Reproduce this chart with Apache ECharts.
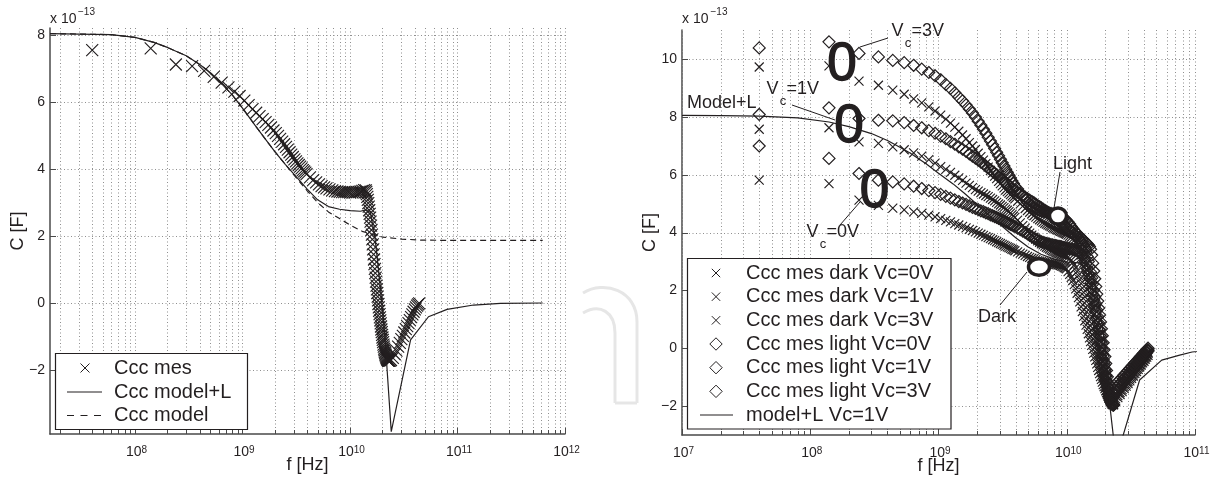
<!DOCTYPE html>
<html>
<head>
<meta charset="utf-8">
<title>Ccc versus frequency</title>
<script src="https://cdn.jsdelivr.net/npm/echarts@6/dist/echarts.min.js"></script>
<style>
  html, body { margin: 0; padding: 0; background: #fff; }
  #chart { width: 1211px; height: 483px; }
</style>
</head>
<body>
<div id="chart"></div>
<script>
// ---------------- left panel: Ccc (x1e-13 F) vs frequency (GHz) ----------------
const freqLeftGHz = [0.04,0.14,0.24,0.34,0.44,0.54,0.64,0.74,0.84,0.94,1.04,1.14,1.24,1.34,1.44,1.54,1.64,1.74,1.84,1.94,
  2.04,2.14,2.24,2.34,2.44,2.54,2.64,2.74,2.84,2.94,3.04,3.14,3.24,3.34,3.44,3.54,3.64,3.74,3.84,3.94,
  4.24,4.54,4.84,5.14,5.44,5.74,6.04,6.44,6.84,7.24,7.64,8.04,8.44,8.84,9.24,9.64,10.04,10.54,11.04,11.54,12.04,12.54,13.04,13.54,
  14.04,14.19,14.34,14.49,14.64,14.79,14.94,15.09,15.24,15.39,15.54,15.69,15.84,15.99,16.14,16.29,16.44,16.59,16.74,16.89,
  17.04,17.19,17.34,17.49,17.64,17.79,17.94,18.09,18.24,18.39,18.54,18.69,18.84,18.99,19.14,19.29,19.44,19.59,19.74,19.89,
  20.04,20.19,20.34,20.49,20.64,20.79,20.94,21.09,21.24,21.39,21.54,21.69,21.84,21.99,22.14,22.29,22.44,22.59,22.74,22.89,23.04,
  23.54,
  24.04,25.04,26.04,27.04,28.04,29.04,30.04,31.04,32.04,33.04,34.04,35.04,36.04,37.04,38.04,39.04,40.04,41.04,42.04,43.04,44.04];
const cccMes = [7.55,7.60,7.12,7.07,6.93,6.75,6.58,6.44,6.31,6.18,6.04,5.91,5.79,5.68,5.58,5.49,5.40,5.32,5.24,5.15,
  5.07,4.99,4.90,4.82,4.74,4.66,4.58,4.50,4.43,4.36,4.29,4.23,4.17,4.12,4.07,4.02,3.97,3.93,3.89,3.85,
  3.75,3.67,3.60,3.54,3.49,3.45,3.42,3.39,3.36,3.34,3.33,3.32,3.31,3.31,3.31,3.31,3.30,3.30,3.30,3.31,3.32,3.33,3.35,3.37,
  3.36,3.32,3.25,3.17,3.08,2.98,2.88,2.77,2.66,2.55,2.43,2.31,2.18,2.04,1.90,1.75,1.60,1.45,1.30,1.16,
  1.02,0.89,0.76,0.64,0.52,0.41,0.30,0.19,0.08,-0.03,-0.13,-0.23,-0.33,-0.43,-0.52,-0.61,-0.70,-0.79,-0.87,-0.95,
  -1.03,-1.10,-1.17,-1.24,-1.30,-1.36,-1.41,-1.46,-1.50,-1.54,-1.57,-1.60,-1.63,-1.65,-1.67,-1.69,-1.70,-1.71,-1.72,-1.72,-1.72,
  -1.72,
  -1.70,-1.64,-1.53,-1.42,-1.30,-1.19,-1.08,-0.98,-0.88,-0.78,-0.69,-0.60,-0.51,-0.42,-0.34,-0.26,-0.19,-0.13,-0.08,-0.04,-0.01];

const modelLFreqGHz = [0.0162,0.03,0.06,0.1,0.15,0.2,0.3,0.4,0.5,0.6,0.8,1.0,1.3,1.6,2.0,2.5,3.2,4.0,5.0,6.3,
  8.0,10,12.5,14,15.5,17,19,21,21.9,24.2,36.6,53.7,80,141,251,620];
const cccModelL = [8.04,8.03,8.01,7.93,7.78,7.63,7.38,7.12,6.88,6.64,6.22,5.82,5.32,4.93,4.52,4.14,3.75,3.40,3.08,2.88,
  2.80,2.76,2.74,2.78,2.70,2.00,0.60,-0.90,-1.76,-3.84,-1.10,-0.41,-0.19,-0.06,-0.01,0.0];

const modelFreqGHz = [0.0162,0.03,0.06,0.1,0.15,0.2,0.3,0.4,0.5,0.6,0.8,1.0,1.3,1.6,2.0,2.5,3.2,4.0,5.0,6.3,
  8.0,10,13,16,20,30,45,80,150,300,620];
const cccModel = [8.04,8.03,8.01,7.93,7.78,7.63,7.38,7.12,6.88,6.64,6.22,5.82,5.32,4.93,4.52,4.14,3.72,3.35,3.00,2.72,
  2.52,2.33,2.14,2.05,1.97,1.91,1.88,1.87,1.87,1.87,1.87];

// ---------------- right panel: dark / light at Vc = 0, 1, 3 V ----------------
const freqRightGHz = [0.04,0.14,0.24,0.34,0.44,0.54,0.64,0.74,0.84,0.94,1.04,1.14,1.24,1.34,1.44,1.54,1.64,1.74,1.84,1.94,
  2.04,2.14,2.24,2.34,2.44,2.54,2.64,2.74,2.84,2.94,3.04,3.14,3.24,3.34,3.44,3.54,3.64,3.74,3.84,3.94,
  4.14,4.34,4.54,4.74,4.94,5.14,5.34,5.54,5.74,5.94,6.14,6.34,6.54,6.74,6.94,7.14,7.34,7.54,7.74,7.94,
  8.14,8.34,8.54,8.74,8.94,9.14,9.34,9.54,9.74,9.94,
  10.24,10.54,10.84,11.14,11.44,11.74,12.04,12.34,12.64,12.94,13.24,13.54,13.84,14.14,14.44,14.74,15.04,15.34,15.64,15.94,
  16.24,16.54,16.84,17.14,17.44,17.74,18.04,18.34,18.64,18.94,19.24,19.54,19.84,20.14,20.44,20.74,21.04,21.34,21.64,21.94,
  22.24,22.54,22.84,23.14,
  24.04,25.04,26.04,27.04,28.04,29.04,30.04,31.04,32.04,33.04,34.04,35.04,36.04,37.04,38.04,39.04,40.04,41.04,42.04,43.04];

const darkVc0 = [5.81,5.69,5.12,4.94,4.84,4.78,4.71,4.66,4.60,4.54,4.48,4.42,4.37,4.31,4.26,4.21,4.16,4.11,4.07,4.02,
  3.98,3.94,3.90,3.86,3.82,3.79,3.75,3.72,3.68,3.65,3.62,3.59,3.56,3.53,3.50,3.48,3.45,3.42,3.40,3.37,
  3.33,3.29,3.25,3.21,3.17,3.14,3.11,3.09,3.06,3.03,3.01,3.00,2.98,2.97,2.96,2.95,2.94,2.93,2.92,2.91,
  2.90,2.89,2.88,2.87,2.86,2.84,2.82,2.79,2.77,2.74,
  2.65,2.55,2.45,2.34,2.20,2.05,1.90,1.75,1.60,1.43,1.27,1.10,0.95,0.80,0.65,0.50,0.36,0.23,0.10,-0.04,
  -0.17,-0.30,-0.42,-0.54,-0.66,-0.77,-0.88,-0.98,-1.08,-1.17,-1.26,-1.33,-1.40,-1.47,-1.54,-1.60,-1.66,-1.72,-1.77,-1.82,
  -1.86,-1.90,-1.92,-1.93,
  -1.82,-1.71,-1.60,-1.50,-1.40,-1.31,-1.22,-1.13,-1.04,-0.96,-0.88,-0.81,-0.73,-0.65,-0.58,-0.51,-0.45,-0.38,-0.31,-0.25];

const darkVc1 = [7.57,7.62,7.13,7.08,6.96,6.86,6.75,6.64,6.52,6.40,6.28,6.18,6.08,5.98,5.89,5.80,5.71,5.63,5.55,5.48,
  5.43,5.38,5.33,5.28,5.24,5.19,5.14,5.09,5.04,4.99,4.95,4.90,4.86,4.81,4.77,4.72,4.67,4.62,4.57,4.52,
  4.43,4.33,4.24,4.15,4.06,3.98,3.91,3.84,3.77,3.71,3.66,3.61,3.57,3.53,3.49,3.46,3.43,3.40,3.37,3.34,
  3.32,3.30,3.28,3.27,3.25,3.24,3.22,3.21,3.19,3.18,
  3.15,3.10,3.04,2.97,2.88,2.78,2.65,2.51,2.37,2.23,2.08,1.93,1.78,1.63,1.47,1.32,1.16,1.00,0.85,0.69,
  0.54,0.38,0.22,0.07,-0.09,-0.24,-0.40,-0.54,-0.69,-0.83,-0.97,-1.10,-1.22,-1.34,-1.45,-1.54,-1.63,-1.71,-1.78,-1.84,
  -1.89,-1.93,-1.95,-1.96,
  -1.75,-1.64,-1.53,-1.43,-1.33,-1.24,-1.15,-1.06,-0.97,-0.89,-0.81,-0.74,-0.66,-0.58,-0.51,-0.44,-0.38,-0.31,-0.24,-0.18];

const darkVc3 = [9.72,9.76,9.23,9.09,8.92,8.78,8.62,8.48,8.34,8.20,8.06,7.92,7.78,7.64,7.50,7.37,7.24,7.11,6.99,6.87,
  6.74,6.62,6.50,6.38,6.26,6.15,6.05,5.95,5.86,5.77,5.69,5.61,5.54,5.47,5.41,5.36,5.31,5.26,5.21,5.16,
  5.08,4.99,4.91,4.83,4.76,4.70,4.64,4.58,4.53,4.48,4.44,4.40,4.36,4.32,4.29,4.26,4.23,4.20,4.17,4.15,
  4.13,4.10,4.08,4.06,4.04,4.02,4.00,3.98,3.96,3.94,
  3.91,3.87,3.83,3.78,3.73,3.66,3.58,3.48,3.36,3.22,3.08,2.94,2.78,2.62,2.46,2.28,2.10,1.92,1.74,1.55,
  1.37,1.18,0.99,0.81,0.62,0.43,0.25,0.07,-0.11,-0.29,-0.47,-0.64,-0.80,-0.96,-1.11,-1.25,-1.39,-1.51,-1.62,-1.72,
  -1.80,-1.87,-1.91,-1.94,
  -1.65,-1.54,-1.44,-1.34,-1.25,-1.16,-1.07,-0.99,-0.90,-0.83,-0.75,-0.68,-0.60,-0.53,-0.46,-0.39,-0.32,-0.27,-0.20,-0.14];

const lightVc0 = [6.99,6.56,6.04,5.81,5.75,5.68,5.60,5.52,5.45,5.38,5.32,5.25,5.19,5.13,5.07,5.02,4.97,4.92,4.87,4.83,
  4.79,4.75,4.72,4.68,4.65,4.61,4.58,4.55,4.52,4.49,4.46,4.43,4.40,4.37,4.34,4.31,4.28,4.26,4.23,4.21,
  4.15,4.10,4.05,4.00,3.95,3.90,3.85,3.81,3.77,3.73,3.71,3.68,3.66,3.64,3.62,3.61,3.60,3.58,3.57,3.56,
  3.55,3.54,3.53,3.52,3.51,3.50,3.49,3.48,3.47,3.46,
  3.45,3.44,3.43,3.42,3.40,3.39,3.37,3.35,3.32,3.28,3.22,3.14,3.03,2.91,2.75,2.59,2.42,2.24,2.06,1.86,
  1.67,1.47,1.27,1.06,0.85,0.64,0.43,0.22,0.01,-0.19,-0.40,-0.60,-0.79,-0.98,-1.16,-1.33,-1.48,-1.61,-1.72,-1.81,
  -1.87,-1.92,-1.95,-1.97,
  -1.55,-1.45,-1.35,-1.26,-1.17,-1.08,-0.99,-0.91,-0.83,-0.76,-0.68,-0.62,-0.54,-0.47,-0.41,-0.34,-0.28,-0.22,-0.16,-0.10];

const lightVc1 = [8.08,8.31,7.94,7.88,7.86,7.80,7.70,7.62,7.52,7.43,7.33,7.24,7.14,7.05,6.96,6.88,6.80,6.72,6.64,6.57,
  6.50,6.43,6.37,6.30,6.23,6.17,6.11,6.05,6.00,5.94,5.88,5.83,5.78,5.73,5.68,5.63,5.58,5.54,5.49,5.45,
  5.39,5.33,5.27,5.22,5.17,5.12,5.07,5.03,4.98,4.93,4.89,4.85,4.81,4.77,4.73,4.69,4.65,4.61,4.57,4.54,
  4.50,4.47,4.43,4.40,4.36,4.33,4.29,4.26,4.22,4.19,
  4.14,4.09,4.04,3.99,3.95,3.90,3.85,3.80,3.75,3.70,3.64,3.56,3.46,3.33,3.17,3.00,2.82,2.63,2.43,2.22,
  2.00,1.78,1.55,1.32,1.10,0.87,0.64,0.41,0.18,-0.04,-0.27,-0.50,-0.72,-0.93,-1.12,-1.30,-1.46,-1.60,-1.72,-1.81,
  -1.88,-1.93,-1.95,-1.96,
  -1.45,-1.30,-1.22,-1.13,-1.04,-0.97,-0.89,-0.81,-0.74,-0.67,-0.60,-0.54,-0.47,-0.40,-0.35,-0.28,-0.23,-0.17,-0.11,-0.06];

const lightVc3 = [10.38,10.59,10.19,10.07,9.95,9.87,9.78,9.65,9.53,9.42,9.28,9.12,8.98,8.83,8.68,8.55,8.41,8.27,8.13,7.99,
  7.85,7.71,7.57,7.43,7.29,7.16,7.03,6.90,6.77,6.65,6.53,6.41,6.30,6.19,6.08,5.98,5.88,5.78,5.69,5.60,
  5.50,5.37,5.25,5.14,5.05,4.97,4.91,4.86,4.82,4.79,4.76,4.74,4.73,4.71,4.70,4.69,4.67,4.66,4.64,4.63,
  4.61,4.60,4.58,4.57,4.55,4.53,4.51,4.49,4.46,4.42,
  4.36,4.29,4.21,4.14,4.07,4.01,3.96,3.91,3.86,3.82,3.77,3.73,3.69,3.65,3.61,3.57,3.52,3.42,3.22,2.94,
  2.67,2.40,2.13,1.87,1.63,1.39,1.15,0.91,0.67,0.43,0.19,-0.05,-0.29,-0.53,-0.77,-0.99,-1.20,-1.39,-1.55,-1.70,
  -1.81,-1.90,-1.94,-1.95,
  -1.35,-1.16,-1.08,-1.00,-0.92,-0.85,-0.77,-0.70,-0.63,-0.57,-0.50,-0.45,-0.38,-0.32,-0.27,-0.21,-0.16,-0.10,-0.05,0.0];

const modelRightFreqGHz = [0.01,0.02,0.04,0.08,0.14,0.2,0.3,0.4,0.5,0.6,0.8,1.0,1.3,1.6,2.0,2.5,3.2,4.0,5.0,6.3,
  8.0,10,12.5,14,16,18,20,21.7,24.2,37,55,76,95,140,250,620];
const modelLVc1 = [8.05,8.04,8.02,7.96,7.82,7.66,7.42,7.18,6.95,6.75,6.38,6.05,5.68,5.35,4.97,4.58,4.18,3.82,3.50,3.25,
  3.08,2.98,2.95,2.95,2.50,1.40,0.00,-2.00,-3.84,-1.10,-0.41,-0.24,-0.13,-0.06,-0.01,0.0];

// ---------------- axis ticks ----------------
const yTicksLeft = [-2, 0, 2, 4, 6, 8];
const yTicksRight = [-2, 0, 2, 4, 6, 8, 10];
const decadesLeft = [7, 8, 9, 10, 11, 12];
const decadesRight = [7, 8, 9, 10, 11];
const minorSteps = [2, 3, 4, 5, 6, 7, 8, 9];

// ---------------- styling ----------------
const INK = '#231f20';
const AXIS = '#4a4a4a';
const GRIDC = '#8f8f8f';
const FONT = "'Liberation Sans', Arial, Helvetica, sans-serif";
const CROSS = 'path://M0,0L10,10M10,0L0,10';

const chart = echarts.init(document.getElementById('chart'), null, { renderer: 'canvas' });

const toPairs = (fGHz, vals) => fGHz.map((f, i) => [f * 1e9, vals[i]]);

function scatterSeries(name, gi, data, symbol, size, width) {
  return {
    type: 'scatter', name, xAxisIndex: gi, yAxisIndex: gi, data,
    symbol, symbolSize: size, silent: true, animation: false, z: 2,
    itemStyle: { color: 'none', borderColor: INK, borderWidth: width || 1, opacity: 1 }
  };
}
function lineSeries(name, gi, data, dash) {
  return {
    type: 'line', name, xAxisIndex: gi, yAxisIndex: gi, data, symbol: 'none',
    silent: true, animation: false, z: 3, clip: true,
    lineStyle: { color: INK, width: 1.2, type: dash }
  };
}

// dotted log grid plus inward ticks, placed through the axes' own scales
function gridSeries(gi, decades, fMin, fMax, yTicks, yRef) {
  const data = [];
  decades.forEach(n => {
    const base = Math.pow(10, n);
    if (base >= fMin * 0.9999 && base <= fMax * 1.0001) data.push([base, yRef, 1]);
    minorSteps.forEach(k => {
      const f = k * base;
      if (f > fMin && f < fMax) data.push([f, yRef, 2]);
    });
  });
  yTicks.forEach(v => data.push([fMin, v, 0]));
  return {
    type: 'custom', xAxisIndex: gi, yAxisIndex: gi, silent: true, animation: false, z: 1, clip: false,
    data,
    renderItem(params, api) {
      const cs = params.coordSys;
      const kind = api.value(2);
      const p = api.coord([api.value(0), api.value(1)]);
      const children = [];
      if (kind === 0) {
        const y = Math.round(p[1]) + 0.5;
        children.push({ type: 'line', shape: { x1: cs.x, y1: y, x2: cs.x + cs.width, y2: y },
          style: { stroke: GRIDC, lineWidth: 1, lineDash: [1, 2.5] } });
        children.push({ type: 'line', shape: { x1: cs.x, y1: y, x2: cs.x + 6, y2: y },
          style: { stroke: AXIS, lineWidth: 1 } });
      } else {
        const x = Math.round(p[0]) + 0.5;
        const bottom = cs.y + cs.height;
        children.push({ type: 'line', shape: { x1: x, y1: cs.y, x2: x, y2: bottom },
          style: { stroke: GRIDC, lineWidth: 1, lineDash: [1, 2.5] } });
        children.push({ type: 'line', shape: { x1: x, y1: bottom, x2: x, y2: bottom - (kind === 1 ? 6 : 4) },
          style: { stroke: AXIS, lineWidth: 1 } });
      }
      return { type: 'group', children };
    }
  };
}

const decadeLabel = v => {
  const e = Math.log10(v);
  if (Math.abs(e - Math.round(e)) > 1e-6) return '';
  return '{b|10}{s|' + Math.round(e) + '}';
};
const yLabel = ticks => v => {
  const hit = ticks.find(t => Math.abs(t - v) < 1e-6);
  if (hit === undefined) return '';
  return hit < 0 ? '\u2212' + (-hit) : String(hit);
};
const richDecade = {
  b: { fontSize: 14, fontFamily: FONT, color: INK, padding: [0, 0, 0, 3], verticalAlign: 'bottom', lineHeight: 14 },
  s: { fontSize: 10, fontFamily: FONT, color: INK, padding: [0, 0, 8, 0], verticalAlign: 'top', lineHeight: 10 }
};

function xAxisCfg(gi, min, max) {
  return {
    type: 'log', logBase: 10, gridIndex: gi, min, max,
    axisLine: { show: true, onZero: false, lineStyle: { color: AXIS, width: 1.5 } },
    axisTick: { show: false }, splitLine: { show: false }, minorTick: { show: false },
    axisLabel: { formatter: decadeLabel, rich: richDecade, margin: 11, color: INK },
    name: 'f [Hz]', nameLocation: 'middle', nameGap: 22, nameMoveOverlap: false,
    nameTextStyle: { fontSize: 18, fontFamily: FONT, color: INK }
  };
}
function yAxisCfg(gi, min, max, ticks) {
  return {
    type: 'value', gridIndex: gi, min, max, minInterval: 2, maxInterval: 2,
    axisLine: { show: true, onZero: false, lineStyle: { color: AXIS, width: 1.5 } },
    axisTick: { show: false }, splitLine: { show: false },
    axisLabel: { formatter: yLabel(ticks), fontSize: 14, fontFamily: FONT, color: INK, margin: 5 },
    name: 'C [F]', nameLocation: 'middle', nameGap: 23, nameMoveOverlap: false,
    nameTextStyle: { fontSize: 18, fontFamily: FONT, color: INK }
  };
}

const option = {
  backgroundColor: '#fff',
  animation: false,
  textStyle: { fontFamily: FONT },
  grid: [
    { left: 50, top: 28, width: 515, height: 406, outerBoundsMode: 'none' },
    { left: 682, top: 30, width: 513, height: 405, outerBoundsMode: 'none' }
  ],
  xAxis: [xAxisCfg(0, 1.62e7, 1e12), xAxisCfg(1, 1e7, 1e11)],
  yAxis: [yAxisCfg(0, -3.91, 8.21, yTicksLeft), yAxisCfg(1, -3.0, 11.0, yTicksRight)],
  series: [
    gridSeries(0, decadesLeft, 1.62e7, 1e12, yTicksLeft, -3.91),
    gridSeries(1, decadesRight, 1e7, 1e11, yTicksRight, -3.0),

    scatterSeries('Ccc mes', 0, toPairs(freqLeftGHz, cccMes), CROSS, 12, 1.15),
    lineSeries('Ccc model+L', 0, toPairs(modelLFreqGHz, cccModelL), 'solid'),
    lineSeries('Ccc model', 0, toPairs(modelFreqGHz, cccModel), [6, 4]),

    scatterSeries('Ccc mes dark Vc=0V', 1, toPairs(freqRightGHz, darkVc0), CROSS, 9, 1.15),
    scatterSeries('Ccc mes dark Vc=1V', 1, toPairs(freqRightGHz, darkVc1), CROSS, 9, 1.15),
    scatterSeries('Ccc mes dark Vc=3V', 1, toPairs(freqRightGHz, darkVc3), CROSS, 9, 1.15),
    scatterSeries('Ccc mes light Vc=0V', 1, toPairs(freqRightGHz, lightVc0), 'diamond', 12, 1.2),
    scatterSeries('Ccc mes light Vc=1V', 1, toPairs(freqRightGHz, lightVc1), 'diamond', 12, 1.2),
    scatterSeries('Ccc mes light Vc=3V', 1, toPairs(freqRightGHz, lightVc3), 'diamond', 12, 1.2),
    lineSeries('model+L Vc=1V', 1, toPairs(modelRightFreqGHz, modelLVc1), 'solid')
  ]
};
chart.setOption(option);

// ---------------- legends, annotations, exponent labels ----------------
const txt = (x, y, text, size, align, strokeW) => {
  const style = { text, fill: INK, fontSize: size, fontFamily: FONT,
    align: align || 'left', verticalAlign: 'middle', textAlign: align || 'left', textVerticalAlign: 'middle' };
  if (strokeW) { style.stroke = INK; style.lineWidth = strokeW; }
  return { type: 'text', x, y, z: 20, silent: true, style };
};
const seg = (x1, y1, x2, y2, w, dash, color) => ({
  type: 'line', z: 20, silent: true, shape: { x1, y1, x2, y2 },
  style: { stroke: color || INK, lineWidth: w || 1, lineDash: dash || null }
});
const crossIcon = (cx, cy, h) => [seg(cx - h, cy - h, cx + h, cy + h), seg(cx + h, cy - h, cx - h, cy + h)];
const diamondIcon = (cx, cy, h) => ({
  type: 'polygon', z: 20, silent: true,
  shape: { points: [[cx, cy - h], [cx + h, cy], [cx, cy + h], [cx - h, cy]] },
  style: { fill: 'none', stroke: INK, lineWidth: 1 }
});
const box = (x, y, w, h) => ({
  type: 'rect', z: 19, silent: true, shape: { x, y, width: w, height: h },
  style: { fill: '#fff', stroke: INK, lineWidth: 1.2 }
});

const graphics = [];
// faint decorative arch between the two panels
const ARCH = '#e6e6e6';
graphics.push({ type: 'bezierCurve', silent: true,
  shape: { x1: 583, y1: 293, cpx1: 604, cpy1: 280, cpx2: 637, cpy2: 290, x2: 637, y2: 322 },
  style: { stroke: ARCH, lineWidth: 3, fill: 'none' } });
graphics.push({ type: 'bezierCurve', silent: true,
  shape: { x1: 583, y1: 313, cpx1: 600, cpy1: 303, cpx2: 615, cpy2: 312, x2: 615, y2: 333 },
  style: { stroke: ARCH, lineWidth: 3, fill: 'none' } });
graphics.push(seg(637, 322, 637, 403, 3, null, ARCH), seg(615, 333, 615, 403, 3, null, ARCH), seg(615, 403, 637, 403, 3, null, ARCH));
graphics.forEach(g => { g.z = 0; });

// exponent multipliers
graphics.push(txt(50, 19, 'x 10', 14), txt(78, 12, '\u221213', 10));
graphics.push(txt(682, 19, 'x 10', 14), txt(710.5, 12.5, '\u221213', 10));

// left legend
graphics.push(box(55.5, 353.5, 192, 76));
graphics.push(...crossIcon(85, 368, 4.5), txt(114, 368, 'Ccc mes', 20));
graphics.push(seg(67, 392, 102, 392, 1.2), txt(114, 392, 'Ccc model+L', 20));
graphics.push(seg(67, 415.5, 102, 415.5, 1.2, [7, 6.5]), txt(114, 415.5, 'Ccc model', 20));

// right legend
const rightLegend = ['Ccc mes dark Vc=0V', 'Ccc mes dark Vc=1V', 'Ccc mes dark Vc=3V',
  'Ccc mes light Vc=0V', 'Ccc mes light Vc=1V', 'Ccc mes light Vc=3V', 'model+L Vc=1V'];
graphics.push(box(687.5, 258.5, 263.5, 170.5));
rightLegend.forEach((label, i) => {
  const y = 273 + i * 23.67;
  if (i < 3) graphics.push(...crossIcon(716, y, 4.2));
  else if (i < 6) graphics.push(diamondIcon(716, y, 6.2));
  else graphics.push(seg(700, y, 733, y, 1.2));
  graphics.push(txt(746, y, label, 20));
});

// right panel annotations
graphics.push(txt(687, 103.5, 'Model+L', 18));
// Vc labels with subscript c
const vcLabel = (x, y, rest) => [txt(x, y, 'V', 18), txt(x + 13.3, y + 12, 'c', 13), txt(x + 20, y, rest, 18)];
graphics.push(...vcLabel(891.5, 31, '=3V'), seg(888, 38, 860, 47));
graphics.push(...vcLabel(766.5, 89, '=1V'), seg(792, 105, 835, 120));
graphics.push(...vcLabel(806.5, 232.5, '=0V'), seg(840, 225, 860, 202));
// large zero-shaped markers around the low-frequency groups
graphics.push(txt(842, 65.5, '0', 53, 'center', 1.4), txt(849, 127, '0', 53, 'center', 1.4), txt(874.5, 192, '0', 53, 'center', 1.4));
// light / dark rings
graphics.push(txt(1053, 164, 'Light', 18), seg(1060, 172, 1054, 208));
graphics.push({ type: 'ellipse', z: 19, silent: true, shape: { cx: 1058, cy: 216, rx: 8.5, ry: 8 },
  style: { fill: '#fff', stroke: INK, lineWidth: 3.5 } });
graphics.push(txt(978, 317, 'Dark', 18), seg(1000, 305, 1027, 272));
graphics.push({ type: 'ellipse', z: 19, silent: true, shape: { cx: 1039, cy: 267, rx: 10.5, ry: 8.3 },
  style: { fill: '#fff', stroke: INK, lineWidth: 3.5 } });

chart.setOption({ graphic: { elements: graphics } });
</script>
</body>
</html>
